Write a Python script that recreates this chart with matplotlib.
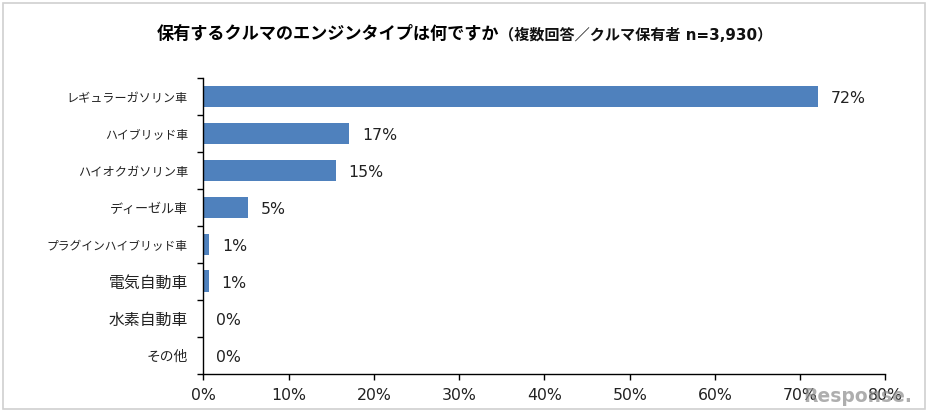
import matplotlib
matplotlib.use("Agg")
import matplotlib.pyplot as plt
from matplotlib.patches import Rectangle

plt.rcParams['font.family'] = ['DejaVu Sans', 'Noto Sans CJK JP']

W = 928
H = 413

categories = ["レギュラーガソリン車", "ハイブリッド車", "ハイオクガソリン車", "ディーゼル車",
              "プラグインハイブリッド車", "電気自動車", "水素自動車", "その他"]
values = [72.1, 17.1, 15.5, 5.2, 0.7, 0.6, 0.0, 0.0]
labels = ["72%", "17%", "15%", "5%", "1%", "1%", "0%", "0%"]
xticks = [0, 10, 20, 30, 40, 50, 60, 70, 80]

# katakana is set narrow in the original, so each label gets its own size to fit
cat_sizes = [8.7, 8.6, 8.8, 9.4, 8.5, 11.4, 11.4, 9.9]

fig = plt.figure(figsize=(W / 100, H / 100), dpi=100, facecolor="white")

# axes box in pixels of the reference
left, right, top, bottom = 203.5, 885.5, 78, 373.5
ax = fig.add_axes([left / W, 1 - bottom / H, (right - left) / W, (bottom - top) / H])

y = list(range(len(categories)))
ax.barh(y, values, height=0.58, color="#4F81BD")
ax.set_ylim(len(categories) - 0.5, -0.5)
ax.set_xlim(0, 80)

ax.set_yticks([i - 0.5 for i in range(len(categories) + 1)])
ax.set_yticklabels([])
ax.tick_params(axis="y", length=4.3, width=1, color="black")
ax.set_xticks(xticks)
ax.set_xticklabels([str(t) + "%" for t in xticks], fontsize=11.3, color="#222222")
ax.tick_params(axis="x", length=4.3, width=1, color="black", pad=6.5)

for s in ["top", "right"]:
    ax.spines[s].set_visible(False)
for s in ["left", "bottom"]:
    ax.spines[s].set_linewidth(1)
    ax.spines[s].set_color("black")

for i, c in enumerate(categories):
    ax.annotate(c, (0, i), xytext=(-11.2, -1.5), textcoords="offset points",
                ha="right", va="center", fontsize=cat_sizes[i], color="#222222",
                family="Noto Sans CJK JP")

for i, (v, t) in enumerate(zip(values, labels)):
    ax.annotate(t, (v, i), xytext=(9, -1.5), textcoords="offset points",
                ha="left", va="center", fontsize=11.3, color="#222222")

fig.text(157 / W, 1 - 34 / H, "保有するクルマのエンジンタイプは何ですか", fontsize=12.35,
         fontweight="bold", ha="left", va="center", color="black",
         family="Noto Sans CJK JP")
fig.text(499 / W, 1 - 35 / H, "（複数回答／クルマ保有者 n=3,930）", fontsize=10.9,
         fontweight="bold", ha="left", va="center", color="#111111")

# outer chart border
fig.add_artist(Rectangle((3.5 / W, 1 - 409 / H), 922 / W, 406.5 / H, transform=fig.transFigure,
                         fill=False, edgecolor="#D0D0D0", linewidth=1.2))

# watermark
fig.text(803 / W, 1 - 396 / H, "Response.", fontsize=13.5, fontweight="bold", color="#8C8C8C",
         alpha=0.7, ha="left", va="center")

fig.savefig("out.png", dpi=100)
